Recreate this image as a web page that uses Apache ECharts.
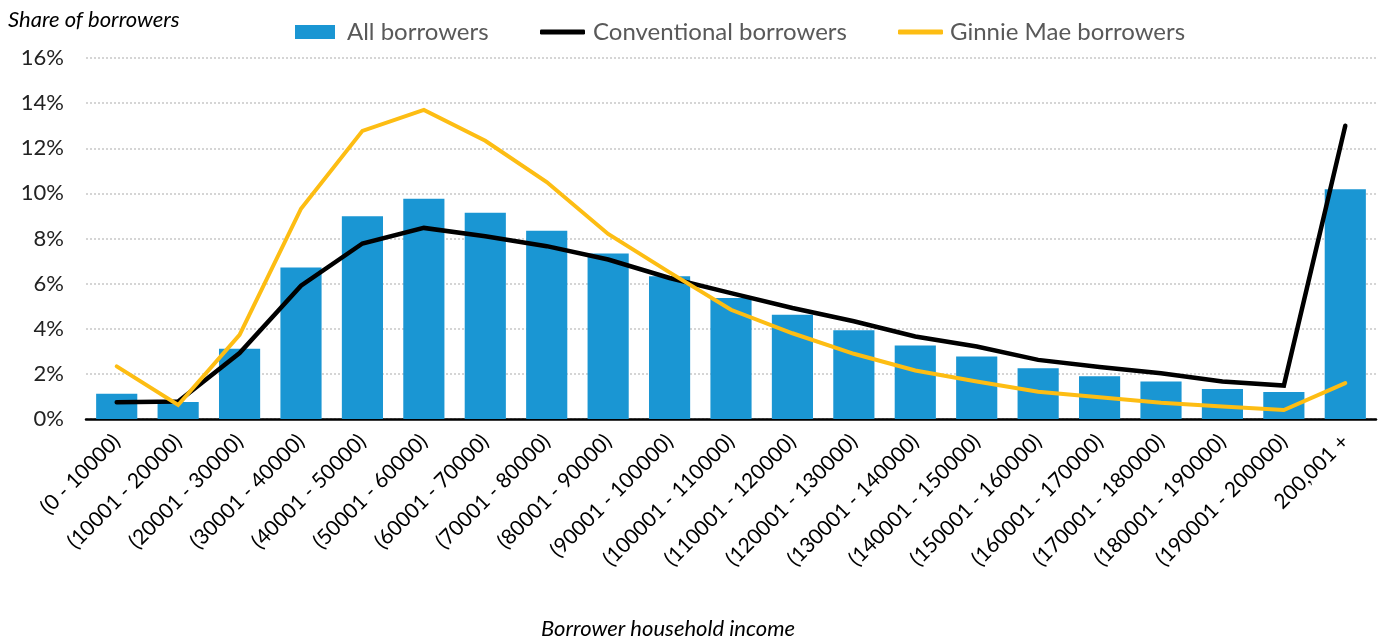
<!DOCTYPE html>
<html>
<head>
<meta charset="utf-8">
<script src="https://cdn.jsdelivr.net/npm/echarts@6/dist/echarts.min.js"></script>
<style>
  html, body { margin: 0; padding: 0; background: #fff; }
  #chart { width: 1379px; height: 641px; }
</style>
</head>
<body>
<div id="chart"></div>
<script>
// Household income bands (USD)
const categories = [
  '(0 - 10000)', '(10001 - 20000)', '(20001 - 30000)', '(30001 - 40000)',
  '(40001 - 50000)', '(50001 - 60000)', '(60001 - 70000)', '(70001 - 80000)',
  '(80001 - 90000)', '(90001 - 100000)', '(100001 - 110000)', '(110001 - 120000)',
  '(120001 - 130000)', '(130001 - 140000)', '(140001 - 150000)', '(150001 - 160000)',
  '(160001 - 170000)', '(170001 - 180000)', '(180001 - 190000)', '(190001 - 200000)',
  '200,001 +'
];

// Share of borrowers in each band, percent
const allBorrowers = [
  1.12, 0.75, 3.11, 6.71, 8.99, 9.76, 9.14, 8.34, 7.33, 6.33, 5.36,
  4.62, 3.93, 3.26, 2.77, 2.25, 1.90, 1.66, 1.33, 1.20, 10.18
];
const conventionalBorrowers = [
  0.74, 0.78, 2.92, 5.91, 7.78, 8.47, 8.10, 7.66, 7.07, 6.25, 5.58,
  4.92, 4.33, 3.66, 3.21, 2.62, 2.30, 2.03, 1.66, 1.48, 13.0
];
const ginnieMaeBorrowers = [
  2.33, 0.62, 3.73, 9.32, 12.77, 13.70, 12.33, 10.50, 8.20, 6.50, 4.84,
  3.80, 2.89, 2.15, 1.66, 1.21, 0.96, 0.72, 0.55, 0.40, 1.59
];

const FONT = 'Lato';
const BLUE = '#1a96d3';
const YELLOW = '#fdbd13';

const chart = echarts.init(document.getElementById('chart'));

chart.setOption({
  animation: false,
  textStyle: { fontFamily: FONT },
  grid: { left: 86, right: 3, top: 58, bottom: 222, containLabel: false },
  legend: [
    {
      data: ['All borrowers'], left: 290, top: 15,
      icon: 'rect', itemWidth: 40, itemHeight: 14,
      textStyle: { fontFamily: FONT, fontSize: 24, color: '#595959', padding: [0, 0, 0, 7] }
    },
    {
      data: ['Conventional borrowers'], left: 535, top: 15,
      icon: 'roundRect', itemWidth: 45, itemHeight: 5,
      textStyle: { fontFamily: FONT, fontSize: 24, color: '#595959', padding: [0, 0, 0, 3] }
    },
    {
      data: ['Ginnie Mae borrowers'], left: 893, top: 15,
      icon: 'roundRect', itemWidth: 45, itemHeight: 5,
      textStyle: { fontFamily: FONT, fontSize: 24, color: '#595959', padding: [0, 0, 0, 2] }
    }
  ],
  xAxis: {
    type: 'category',
    data: categories,
    axisLine: { lineStyle: { color: '#000', width: 2.5 } },
    axisTick: { show: false },
    axisLabel: {
      interval: 0, rotate: 45, margin: 19,
      fontFamily: FONT, fontSize: 21, color: '#000'
    }
  },
  yAxis: {
    type: 'value',
    min: 0, max: 16, interval: 2,
    axisLine: { show: false },
    axisTick: { show: false },
    axisLabel: {
      formatter: '{value}%', margin: 22,
      fontFamily: FONT, fontSize: 22, color: '#222'
    },
    splitLine: { lineStyle: { color: '#c8c8c8', type: [2, 2], width: 1.5 } }
  },
  graphic: [
    {
      type: 'text', left: 8, top: 9,
      style: { text: 'Share of borrowers', fontFamily: FONT, fontStyle: 'italic', fontSize: 22, fill: '#000' }
    },
    {
      type: 'text', left: 541, top: 618,
      style: { text: 'Borrower household income', fontFamily: FONT, fontStyle: 'italic', fontSize: 22, fill: '#000' }
    }
  ],
  series: [
    {
      name: 'All borrowers', type: 'bar', data: allBorrowers,
      barCategoryGap: '33%',
      itemStyle: { color: BLUE }
    },
    {
      name: 'Conventional borrowers', type: 'line', data: conventionalBorrowers,
      showSymbol: false, symbol: 'none',
      itemStyle: { color: '#000' },
      lineStyle: { color: '#000', width: 4.5, join: 'miter', cap: 'round' }
    },
    {
      name: 'Ginnie Mae borrowers', type: 'line', data: ginnieMaeBorrowers,
      showSymbol: false, symbol: 'none',
      itemStyle: { color: YELLOW },
      lineStyle: { color: YELLOW, width: 4, join: 'miter', cap: 'round' }
    }
  ]
});
</script>
</body>
</html>
